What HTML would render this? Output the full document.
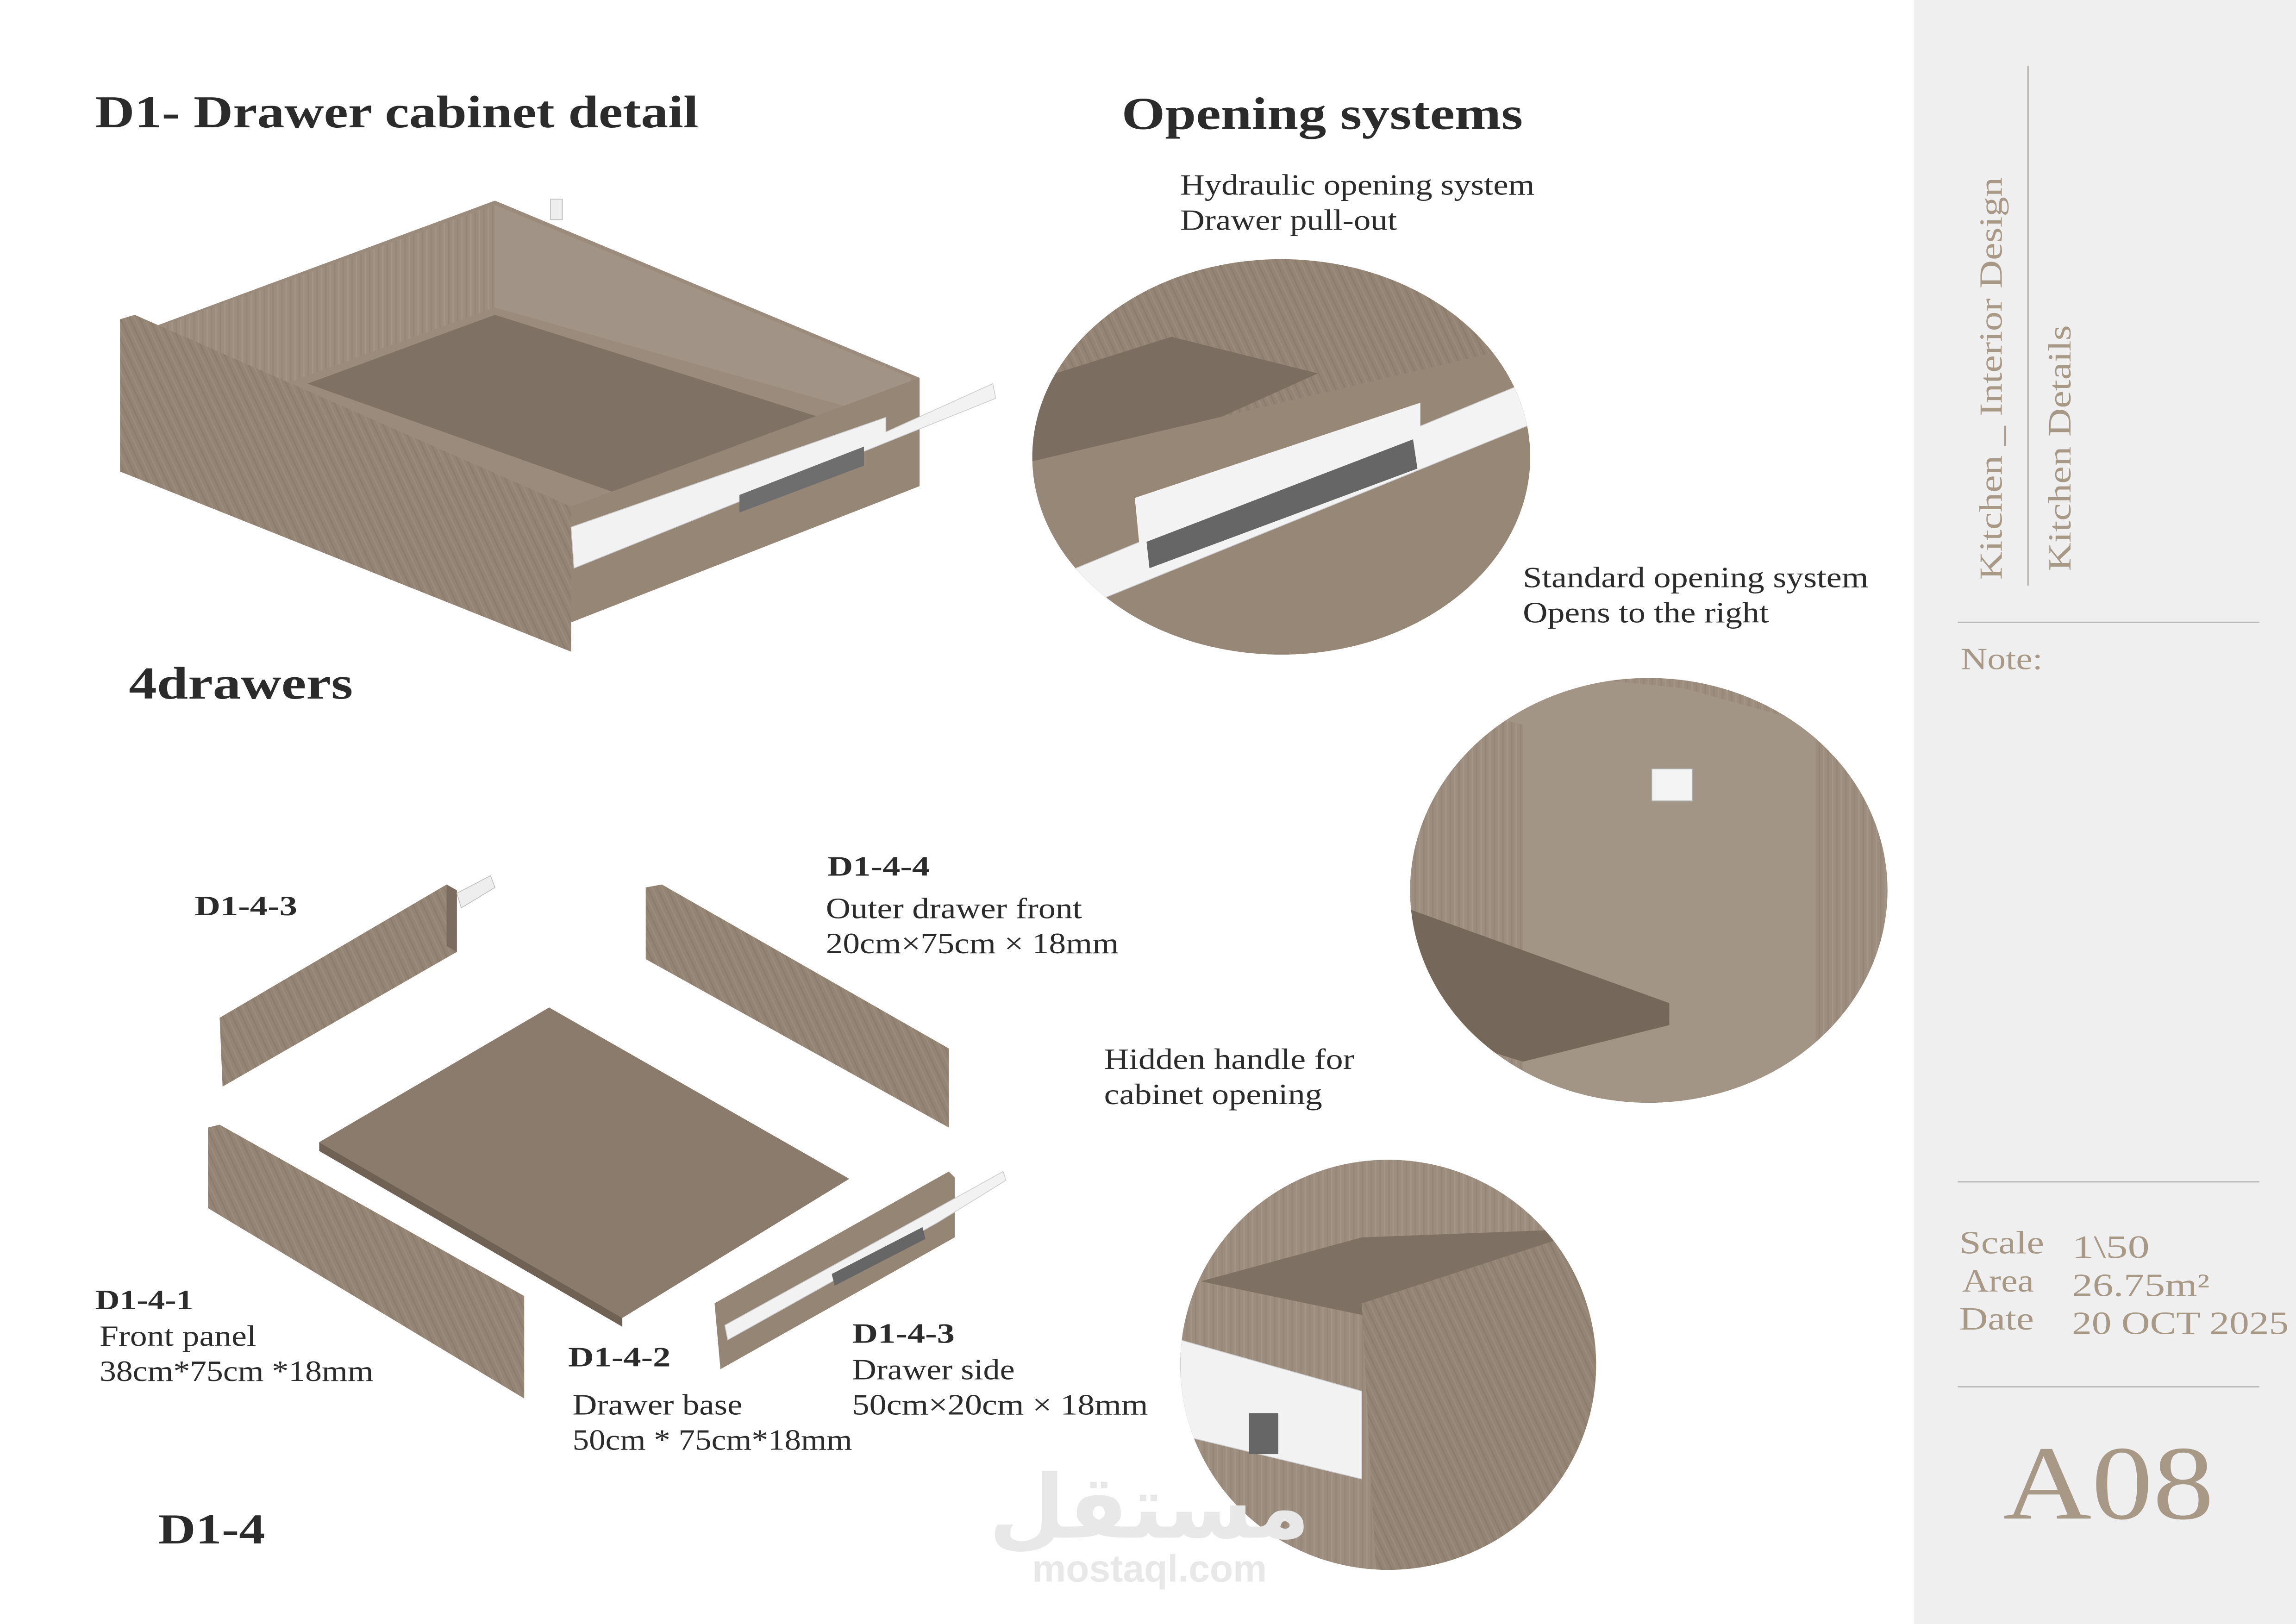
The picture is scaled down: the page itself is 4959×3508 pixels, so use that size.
<!DOCTYPE html>
<html><head><meta charset="utf-8">
<style>
html,body{margin:0;padding:0;background:#fff;}
svg{display:block;}
.t{font-family:"Liberation Serif",serif;fill:#2b2b2b;}
.b{font-weight:bold;}
.g{font-family:"Liberation Serif",serif;fill:#a89886;}
</style></head>
<body>
<svg width="4959" height="3508" viewBox="0 0 1568 1109" preserveAspectRatio="none" xmlns="http://www.w3.org/2000/svg">
<defs>
<pattern id="grain" width="6" height="40" patternUnits="userSpaceOnUse" patternTransform="rotate(-25)">
<rect width="6" height="40" fill="#948474"/>
<rect x="0" width="1" height="40" fill="#8c7c6d"/>
<rect x="3" width="1" height="40" fill="#9a8b7c"/>
</pattern>
<pattern id="grainV" width="6" height="40" patternUnits="userSpaceOnUse">
<rect width="6" height="40" fill="#9c8d7f"/>
<rect x="0" width="1" height="40" fill="#958677"/>
<rect x="3" width="1" height="40" fill="#a39587"/>
</pattern>
</defs>
<rect width="1568" height="1109" fill="#fff"/>
<rect x="1307" y="0" width="261" height="1109" fill="#efefef"/>

<text class="t b" x="65" y="87" font-size="31" textLength="412" lengthAdjust="spacingAndGlyphs">D1- Drawer cabinet detail</text>
<text class="t b" x="766" y="88" font-size="31" textLength="274" lengthAdjust="spacingAndGlyphs">Opening systems</text>
<text class="t b" x="88" y="477" font-size="31" textLength="153" lengthAdjust="spacingAndGlyphs">4drawers</text>

<!-- main drawer -->
<polygon points="108,222 338,137 628,258 628,330 390,425 390,445 82,322 82,218" fill="#9a8b7d"/>
<polygon points="112,222 338,140 338,210 112,292" fill="url(#grainV)"/>
<polygon points="338,140 622,258 622,290 338,210" fill="#a19385"/>
<polygon points="210,262 338,215 560,285 430,340" fill="#7f7164"/>
<polygon points="82,218 92,215 390,346 390,445 82,322" fill="url(#grain)"/>
<polygon points="390,346 628,258 628,332 390,425" fill="#958676"/>
<polygon points="390,360 605,285 605,295 678,262 680,272 392,388" fill="#f2f2f2" stroke="#ccc" stroke-width="0.5"/>
<polygon points="505,338 590,305 590,318 505,350" fill="#6e6e6e"/>
<rect x="376" y="136" width="8" height="14" fill="#eee" stroke="#bbb" stroke-width="0.5"/>

<text class="t" x="806" y="133" font-size="20" textLength="242" lengthAdjust="spacingAndGlyphs">Hydraulic opening system</text>
<text class="t" x="806" y="157" font-size="20" textLength="148" lengthAdjust="spacingAndGlyphs">Drawer pull-out</text>
<ellipse cx="875" cy="312" rx="170" ry="135" fill="#9a8b7d"/>
<clipPath id="c1"><ellipse cx="875" cy="312" rx="170" ry="135"/></clipPath>
<g clip-path="url(#c1)">
<rect x="700" y="170" width="350" height="290" fill="url(#grain)"/>
<polygon points="705,260 800,230 900,255 800,300 705,315" fill="#7b6d60"/>
<polygon points="705,315 1045,235 1045,460 705,460" fill="#968777"/>
<polygon points="730,390 1045,260 1045,290 750,410" fill="#f3f3f3" stroke="#ccc" stroke-width="0.5"/>
<polygon points="775,340 970,275 970,315 780,392" fill="#f3f3f3"/>
<polygon points="783,370 965,300 968,320 785,388" fill="#666"/>
</g>

<text class="t" x="1040" y="401" font-size="20" textLength="236" lengthAdjust="spacingAndGlyphs">Standard opening system</text>
<text class="t" x="1040" y="425" font-size="20" textLength="168" lengthAdjust="spacingAndGlyphs">Opens to the right</text>
<ellipse cx="1126" cy="608" rx="163" ry="145" fill="#a09283"/>
<clipPath id="c2"><ellipse cx="1126" cy="608" rx="163" ry="145"/></clipPath>
<g clip-path="url(#c2)">
<rect x="960" y="460" width="335" height="300" fill="url(#grainV)"/>
<polygon points="1020,490 1070,462 1150,470 1240,495 1240,760 1040,760 1040,495" fill="#a39586"/>
<polygon points="960,620 1140,685 1140,700 1040,725 960,700" fill="#756759"/>
<rect x="1128" y="525" width="28" height="22" fill="#f4f4f4" stroke="#aaa" stroke-width="0.6"/>
</g>

<text class="t" x="754" y="730" font-size="20" textLength="171" lengthAdjust="spacingAndGlyphs">Hidden handle for</text>
<text class="t" x="754" y="754" font-size="20" textLength="149" lengthAdjust="spacingAndGlyphs">cabinet opening</text>
<ellipse cx="948" cy="932" rx="142" ry="140" fill="#9a8b7d"/>
<clipPath id="c3"><ellipse cx="948" cy="932" rx="142" ry="140"/></clipPath>
<g clip-path="url(#c3)">
<rect x="800" y="790" width="300" height="290" fill="url(#grainV)"/>
<polygon points="820,875 930,845 1060,840 1090,860 940,900" fill="#7e7063"/>
<polygon points="930,890 1090,838 1090,1080 940,1080" fill="url(#grain)"/>
<polygon points="806,915 930,950 930,1010 806,980" fill="#f2f2f2" stroke="#ccc" stroke-width="0.5"/>
<rect x="853" y="965" width="20" height="28" fill="#666"/>
</g>

<!-- exploded parts -->
<polygon points="150,695 305,604 312,608 312,650 152,742" fill="url(#grain)"/>
<polygon points="305,604 312,608 312,650 305,646" fill="#7a6c5f"/>
<polygon points="312,610 335,598 338,606 315,620" fill="#eee" stroke="#bbb" stroke-width="0.5"/>
<polygon points="441,606 452,604 648,716 648,770 441,655" fill="url(#grain)"/>
<polygon points="218,780 375,688 580,805 425,900" fill="#8a7b6d"/>
<polygon points="218,780 425,900 425,906 218,786" fill="#6f6154"/>
<polygon points="142,770 150,768 358,885 358,955 142,825" fill="url(#grain)"/>
<polygon points="488,890 648,800 652,804 652,845 492,935" fill="#948575"/>
<polygon points="495,905 640,825 685,800 687,806 640,835 497,915" fill="#f2f2f2" stroke="#ccc" stroke-width="0.5"/>
<polygon points="568,870 630,838 632,846 570,878" fill="#666"/>

<text class="t b" x="133" y="625" font-size="19" textLength="70" lengthAdjust="spacingAndGlyphs">D1-4-3</text>
<text class="t b" x="565" y="598" font-size="19" textLength="70" lengthAdjust="spacingAndGlyphs">D1-4-4</text>
<text class="t" x="564" y="627" font-size="20" textLength="175" lengthAdjust="spacingAndGlyphs">Outer drawer front</text>
<text class="t" x="564" y="651" font-size="20" textLength="200" lengthAdjust="spacingAndGlyphs">20cm×75cm × 18mm</text>
<text class="t b" x="65" y="894" font-size="19" textLength="67" lengthAdjust="spacingAndGlyphs">D1-4-1</text>
<text class="t" x="68" y="919" font-size="20" textLength="107" lengthAdjust="spacingAndGlyphs">Front panel</text>
<text class="t" x="68" y="943" font-size="20" textLength="187" lengthAdjust="spacingAndGlyphs">38cm*75cm *18mm</text>
<text class="t b" x="388" y="933" font-size="19" textLength="70" lengthAdjust="spacingAndGlyphs">D1-4-2</text>
<text class="t" x="391" y="966" font-size="20" textLength="116" lengthAdjust="spacingAndGlyphs">Drawer base</text>
<text class="t" x="391" y="990" font-size="20" textLength="191" lengthAdjust="spacingAndGlyphs">50cm * 75cm*18mm</text>
<text class="t b" x="582" y="917" font-size="19" textLength="70" lengthAdjust="spacingAndGlyphs">D1-4-3</text>
<text class="t" x="582" y="942" font-size="20" textLength="111" lengthAdjust="spacingAndGlyphs">Drawer side</text>
<text class="t" x="582" y="966" font-size="20" textLength="202" lengthAdjust="spacingAndGlyphs">50cm×20cm × 18mm</text>
<text class="t b" x="108" y="1054" font-size="29" textLength="73" lengthAdjust="spacingAndGlyphs">D1-4</text>

<text x="785" y="1050" font-size="60" text-anchor="middle" font-family="'DejaVu Sans',sans-serif" font-weight="bold" fill="#e8e8e8">مستقل</text>
<text x="785" y="1080" font-size="26" text-anchor="middle" font-family="'Liberation Sans',sans-serif" font-weight="bold" fill="#e8e8e8">mostaql.com</text>

<line x1="1385" y1="45" x2="1385" y2="400" stroke="#b9b0a6" stroke-width="1"/>
<text class="g" font-size="22" transform="translate(1367,396) rotate(-90)" textLength="275" lengthAdjust="spacingAndGlyphs">Kitchen _ Interior Design</text>
<text class="g" font-size="22" transform="translate(1414,390) rotate(-90)" textLength="168" lengthAdjust="spacingAndGlyphs">Kitchen Details</text>
<line x1="1337" y1="425" x2="1543" y2="425" stroke="#bbb" stroke-width="1"/>
<text class="g" x="1339" y="457" font-size="21" textLength="56" lengthAdjust="spacingAndGlyphs">Note:</text>
<line x1="1337" y1="807" x2="1543" y2="807" stroke="#bbb" stroke-width="1"/>
<text class="g" x="1338" y="856" font-size="22" textLength="58" lengthAdjust="spacingAndGlyphs">Scale</text>
<text class="g" x="1340" y="882" font-size="22" textLength="49" lengthAdjust="spacingAndGlyphs">Area</text>
<text class="g" x="1338" y="908" font-size="22" textLength="51" lengthAdjust="spacingAndGlyphs">Date</text>
<text class="g" x="1415" y="859" font-size="22" textLength="53" lengthAdjust="spacingAndGlyphs">1\50</text>
<text class="g" x="1415" y="885" font-size="22" textLength="94" lengthAdjust="spacingAndGlyphs">26.75m²</text>
<text class="g" x="1415" y="911" font-size="22" textLength="148" lengthAdjust="spacingAndGlyphs">20 OCT 2025</text>
<line x1="1337" y1="947" x2="1543" y2="947" stroke="#bbb" stroke-width="1"/>
<text class="g" x="1368" y="1037" font-size="72" textLength="144" lengthAdjust="spacingAndGlyphs">A08</text>
</svg>
</body></html>
